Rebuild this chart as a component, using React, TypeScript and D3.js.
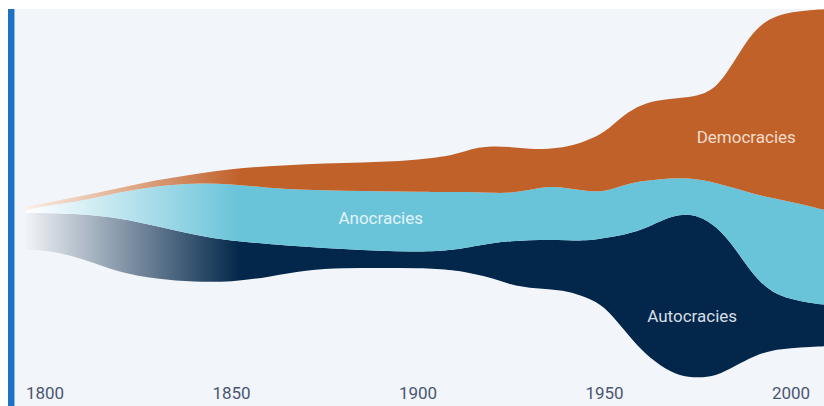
import React from 'react';
import * as d3 from 'd3';

// years sampled along the stream
const years = [1795, 1800, 1810, 1820, 1830, 1840, 1850, 1860, 1870, 1880, 1890, 1900, 1910, 1915, 1920, 1925, 1930, 1935, 1940, 1945, 1950, 1955, 1960, 1965, 1970, 1975, 1980, 1985, 1990, 1995, 2000, 2005, 2010];
// invisible offset under the stream (number of countries)
const baseline = [75, 75, 71, 63.5, 60.5, 59, 59, 61.5, 65, 66, 66, 66, 65, 63, 61, 57.5, 56, 55.5, 54.5, 51.5, 47, 35.5, 24.5, 17, 12, 11, 12, 17, 22, 25, 26, 26.5, 27];
const autocracies = [18.5, 18.5, 22, 27.5, 26.5, 23.5, 20.5, 16.5, 11.5, 9.5, 8.5, 8, 10, 14, 17.5, 22, 24, 24.5, 25.5, 28, 34, 47, 60.5, 72.5, 81, 81.5, 75, 59, 40, 28.5, 24.5, 22, 20.5];
const anocracies = [1.5, 3.5, 6.5, 13, 20, 26, 28.5, 28, 28.5, 29, 30, 30, 29, 27, 25, 24, 25, 27, 26, 25, 23, 25, 24.5, 21, 18, 18, 21.5, 30, 41, 47.5, 48.5, 48.5, 47];
const democracies = [1.5, 1.5, 2.5, 2, 3, 4.5, 7.5, 11, 13, 14, 14.5, 16, 18.5, 22, 23.5, 23, 20.5, 18.5, 20.5, 25, 29.5, 35, 38.5, 39.5, 40, 41.5, 47, 64, 82, 90.5, 95, 98, 101];

const tickYears = [1800, 1850, 1900, 1950, 2000];

const keys = ['base', 'auto', 'ano', 'dem'];
const colors: Record<string, string> = { auto: '#02274a', ano: '#69c3d9', dem: '#c0612a' };
const fadeFrom: Record<string, string> = { auto: '#eff1f5', ano: '#ffffff', dem: '#fbeee4' };

const labels = [
  { key: 'dem', text: 'Democracies', year: 1988, value: 128.5, fill: '#f3dccb' },
  { key: 'ano', text: 'Anocracies', year: 1890, value: 88, fill: '#e4f4f9' },
  { key: 'auto', text: 'Autocracies', year: 1973.5, value: 39, fill: '#d9dee6' },
];

const W = 824;
const H = 406;

export default function App() {
  const rows = years.map((yr, i) => ({
    year: yr,
    base: baseline[i],
    auto: autocracies[i],
    ano: anocracies[i],
    dem: democracies[i],
  }));

  const x = d3.scaleLinear().domain([1800, 2000]).range([45, 791]);
  const y = d3.scaleLinear().domain([0, 195]).range([400, 10]);

  const series = d3.stack<any>().keys(keys)(rows);

  const area = d3
    .area<any>()
    .x((d) => x(d.data.year))
    .y0((d) => y(d[0]))
    .y1((d) => y(d[1]))
    .curve(d3.curveBasis);

  const fadeStart = x(1795.4);
  const fadeEnd = 240;

  return (
    <svg width={W} height={H} style={{ position: 'absolute', left: 0, top: 0, display: 'block' }}>
      <defs>
        {keys.slice(1).map((k) => (
          <linearGradient key={k} id={'fade-' + k} gradientUnits="userSpaceOnUse" x1={fadeStart} x2={fadeEnd} y1={0} y2={0}>
            <stop offset="0" stopColor={fadeFrom[k]} />
            <stop offset="1" stopColor={colors[k]} />
          </linearGradient>
        ))}
      </defs>
      <rect x={0} y={0} width={W} height={H} fill="#ffffff" />
      <rect x={8} y={9} width={W - 8} height={H - 9} fill="#f2f5fa" />
      <rect x={8} y={9} width={6} height={H - 9} fill="#1f72c2" />
      <rect x={14} y={9} width={1} height={H - 9} fill="#8ab8e6" />

      {series
        .filter((s) => s.key !== 'base')
        .map((s) => (
          <path key={s.key} d={area(s) || ''} fill={`url(#fade-${s.key})`} />
        ))}

      {labels.map((l) => (
        <text
          key={l.key}
          x={x(l.year)}
          y={y(l.value)}
          textAnchor="middle"
          fontFamily="Roboto, 'Open Sans', sans-serif"
          fontSize={17}
          fill={l.fill}
        >
          {l.text}
        </text>
      ))}

      {tickYears.map((t) => (
        <text
          key={t}
          x={x(t)}
          y={399}
          textAnchor="middle"
          fontFamily="Roboto, 'Open Sans', sans-serif"
          fontSize={17}
          fill="#4a5572"
        >
          {t}
        </text>
      ))}
    </svg>
  );
}
